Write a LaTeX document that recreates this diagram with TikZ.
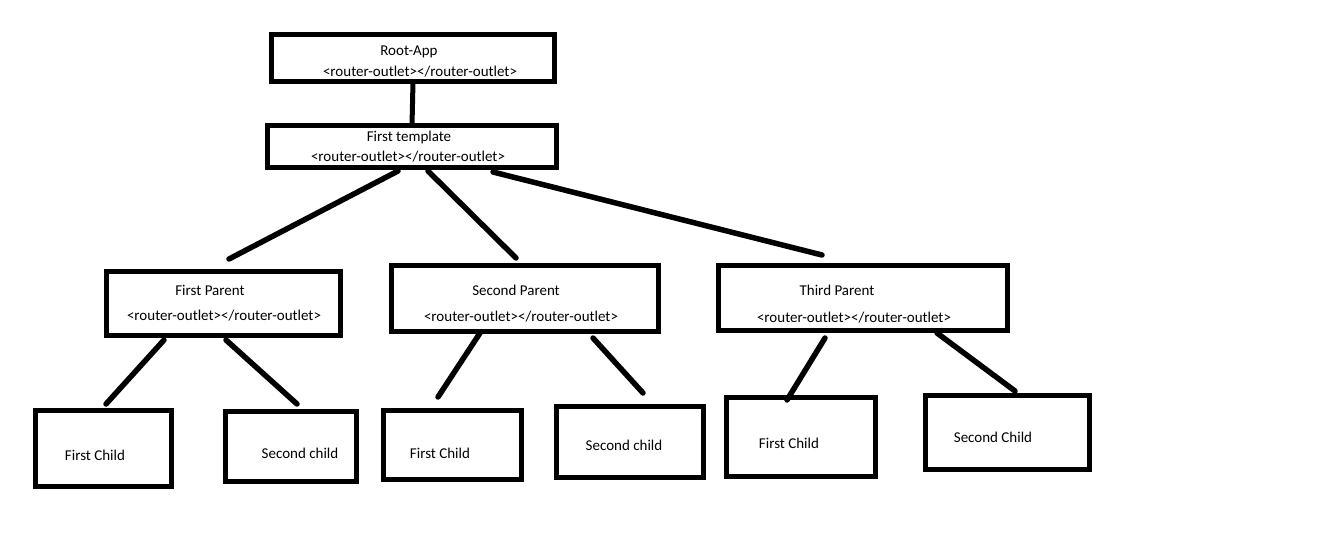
\documentclass[tikz,border=0pt]{standalone}
\usepackage{fontspec}
\setmainfont{Carlito}
\begin{document}
\begin{tikzpicture}[x=1pt,y=-1pt,
  box/.style={draw=black,line width=5pt,rectangle,inner sep=0pt,outer sep=0pt,fill=white},
  lbl/.style={inner sep=0pt,font=\fontsize{15}{17}\selectfont,anchor=center,yshift=-2pt},
  conn/.style={draw=black,line width=5.5pt,line cap=round}]
\useasboundingbox[fill=white] (0,0) rectangle (1332,540);
% boxes
\node[box,minimum width=283pt,minimum height=47pt] (root) at (413,58) {};
\node[box,minimum width=289pt,minimum height=42pt] (tmpl) at (412,146.5) {};
\node[box,minimum width=234pt,minimum height=64pt] (p1) at (223.5,303.5) {};
\node[box,minimum width=267pt,minimum height=66pt] (p2) at (525,298.5) {};
\node[box,minimum width=289pt,minimum height=65pt] (p3) at (863,298) {};
\node[box,minimum width=136pt,minimum height=76pt] (c1) at (103.5,448.5) {};
\node[box,minimum width=131pt,minimum height=70pt] (c2) at (291,446.5) {};
\node[box,minimum width=138pt,minimum height=69pt] (c3) at (452.5,445) {};
\node[box,minimum width=147pt,minimum height=71pt] (c4) at (630,442) {};
\node[box,minimum width=149pt,minimum height=79pt] (c5) at (801,437) {};
\node[box,minimum width=164pt,minimum height=74pt] (c6) at (1007.5,432.5) {};
% texts
\node[lbl] (t-root1) at (409,50) {Root-App};
\node[lbl] (t-root2) at (420,70) {<router-outlet></router-outlet>};
\node[lbl] (t-tmpl1) at (409,136) {First template};
\node[lbl] (t-tmpl2) at (408,155) {<router-outlet></router-outlet>};
\node[lbl] (t-p11) at (210,288) {First Parent};
\node[lbl] (t-p12) at (224,314) {<router-outlet></router-outlet>};
\node[lbl] (t-p21) at (516,288) {Second Parent};
\node[lbl] (t-p22) at (521,315) {<router-outlet></router-outlet>};
\node[lbl] (t-p31) at (837,288) {Third Parent};
\node[lbl] (t-p32) at (854,316) {<router-outlet></router-outlet>};
\node[lbl] (t-c1) at (95,453) {First Child};
\node[lbl] (t-c2) at (300,451) {Second child};
\node[lbl] (t-c3) at (440,451) {First Child};
\node[lbl] (t-c4) at (624,443) {Second child};
\node[lbl] (t-c5) at (789,441) {First Child};
\node[lbl] (t-c6) at (993,435) {Second Child};
% connector end points
\coordinate (a1) at (398,171); \coordinate (b1) at (229,259);
\coordinate (a2) at (428,171); \coordinate (b2) at (516,258);
\coordinate (a3) at (493,172); \coordinate (b3) at (822,255);
\coordinate (d1) at (164,340); \coordinate (e1) at (106,404);
\coordinate (d2) at (226,340); \coordinate (e2) at (297,404);
\coordinate (d3) at (480,333); \coordinate (e3) at (438,397);
\coordinate (d4) at (593,338); \coordinate (e4) at (643,393);
\coordinate (d5) at (825,338); \coordinate (e5) at (787,400);
\coordinate (d6) at (937,333); \coordinate (e6) at (1015,391);
% connectors
\draw[line width=5pt] (root.south) -- (tmpl.north);
\draw[conn] (a1) -- (b1);
\draw[conn] (a2) -- (b2);
\draw[conn] (a3) -- (b3);
\draw[conn] (d1) -- (e1);
\draw[conn] (d2) -- (e2);
\draw[conn] (d3) -- (e3);
\draw[conn] (d4) -- (e4);
\draw[conn] (d5) -- (e5);
\draw[conn] (d6) -- (e6);
\end{tikzpicture}
\end{document}
